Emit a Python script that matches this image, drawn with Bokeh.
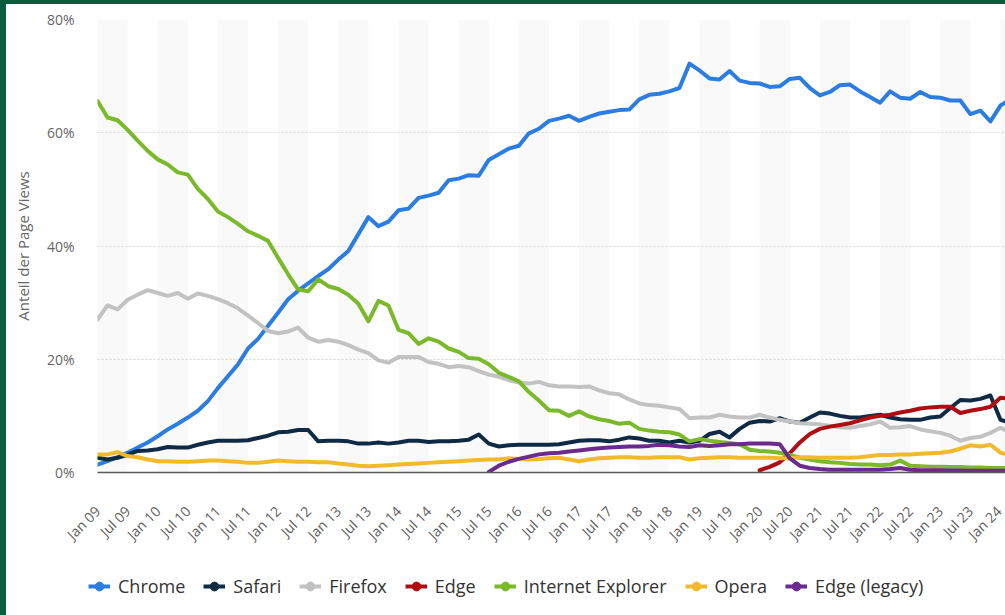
import math
import numpy as np
from bokeh.plotting import figure
from bokeh.layouts import column
from bokeh.models import Range1d, FixedTicker, Legend, LegendItem
from bokeh.embed import file_html
from bokeh.resources import INLINE

# ---------------- data (bi-monthly, Jan 2009 .. Mar 2024) ----------------
period_month = list(range(0, 184, 2))   # months since Jan 2009

chrome = [1.4, 2.0, 2.7, 3.5, 4.4, 5.3, 6.4, 7.6, 8.6, 9.7, 10.9, 12.6, 14.9, 17.0, 19.1, 21.9,
          23.6, 25.9, 28.2, 30.6, 32.1, 33.4, 34.7,
          35.9, 37.6, 39.1, 42.1, 45.1, 43.5, 44.3, 46.3, 46.6, 48.5, 48.9, 49.4, 51.6, 51.9,
          52.5, 52.4, 55.2, 56.2, 57.2, 57.7, 59.9, 60.7, 62.1, 62.5,
          63.0, 62.1, 62.8, 63.4, 63.7, 64.0, 64.1, 65.9, 66.7, 66.9, 67.3, 67.9, 72.2, 71.0,
          69.6, 69.4, 70.9, 69.2, 68.8, 68.7, 68.1, 68.2, 69.5,
          69.7, 67.9, 66.6, 67.2, 68.4, 68.5, 67.3, 66.3, 65.3, 67.3, 66.2, 66.0, 67.2, 66.3,
          66.2, 65.7, 65.7, 63.3, 63.9, 62.0, 64.8, 65.9]

safari = [2.6, 2.3, 2.6, 3.1, 3.8, 3.9, 4.1, 4.5, 4.4, 4.4, 4.9, 5.3, 5.6, 5.6, 5.6, 5.7,
          6.1, 6.5, 7.1, 7.2, 7.5, 7.5, 5.5,
          5.6, 5.6, 5.5, 5.1, 5.1, 5.3, 5.1, 5.3, 5.6, 5.6, 5.4, 5.5, 5.5, 5.6, 5.8, 6.7,
          5.1, 4.6, 4.8, 4.9, 4.9, 4.9, 4.9, 5.0,
          5.3, 5.6, 5.7, 5.7, 5.5, 5.8, 6.2, 6.0, 5.6, 5.6, 5.3, 5.6, 5.3, 5.6, 6.8, 7.2,
          6.2, 7.7, 8.8, 9.1, 9.0, 9.6, 9.0,
          8.8, 9.7, 10.6, 10.4, 10.0, 9.7, 9.7, 10.0, 10.2, 9.7, 9.4, 9.3, 9.3, 9.7, 9.9,
          11.4, 12.8, 12.7, 13.0, 13.6, 9.3, 8.8]

firefox = [27.0, 29.5, 28.8, 30.5, 31.4, 32.2, 31.7, 31.2, 31.7, 30.7, 31.6, 31.2, 30.6, 29.9,
           29.0, 27.7, 26.4, 25.0, 24.6, 24.9, 25.6, 23.8, 23.1,
           23.4, 23.1, 22.5, 21.7, 21.1, 19.8, 19.4, 20.4, 20.4, 20.4, 19.5, 19.2, 18.6, 18.8,
           18.6, 17.9, 17.3, 16.9, 16.3, 15.9, 15.7, 16.0, 15.4, 15.2,
           15.2, 15.1, 15.2, 14.5, 14.0, 13.8, 12.9, 12.2, 11.9, 11.8, 11.5, 11.2, 9.6, 9.7,
           9.7, 10.2, 9.9, 9.7, 9.7, 10.2, 9.7, 9.3, 9.0,
           8.7, 8.6, 8.5, 8.2, 8.0, 7.9, 8.2, 8.5, 9.0, 7.9, 8.0, 8.2, 7.6, 7.3, 7.0, 6.5,
           5.6, 6.1, 6.3, 7.0, 7.9, 7.0]

edge = [None] * 66 + [0.4, 1.0, 1.8, 3.4, 5.3, 6.8, 7.7, 8.1, 8.4, 8.7, 9.2, 9.7, 10.0, 10.2,
                      10.6, 10.9, 11.3, 11.5, 11.6, 11.6, 10.5, 10.9, 11.2, 11.6, 13.2, 13.0]

internet_explorer = [65.6, 62.7, 62.2, 60.5, 58.6, 56.8, 55.3, 54.4, 53.0, 52.6, 50.1, 48.3,
                     46.1, 45.1, 43.9, 42.6, 41.8, 40.9, 37.9, 35.0, 32.3, 32.0, 34.1,
                     32.9, 32.4, 31.4, 29.8, 26.7, 30.3, 29.5, 25.2, 24.6, 22.7, 23.7, 23.1,
                     21.9, 21.3, 20.2, 20.1, 19.1, 17.6, 16.9, 16.1, 14.2, 12.7, 11.0, 10.9,
                     10.0, 10.8, 9.9, 9.4, 9.1, 8.6, 8.8, 7.7, 7.4, 7.2, 7.1, 6.7, 5.5, 5.9,
                     5.6, 5.4, 5.2, 5.0, 4.0, 3.8, 3.7, 3.5, 3.1,
                     2.6, 2.3, 2.0, 1.8, 1.7, 1.5, 1.4, 1.4, 1.3, 1.4, 2.1, 1.2, 1.1, 1.0, 1.0,
                     0.95, 0.95, 0.9, 0.9, 0.8, 0.8, 0.8]

opera = [3.2, 3.2, 3.6, 2.9, 2.7, 2.3, 2.0, 2.0, 1.9, 1.9, 2.0, 2.1, 2.1, 2.0, 1.9, 1.7, 1.7,
         1.9, 2.1, 2.0, 1.9, 1.9, 1.8,
         1.8, 1.6, 1.4, 1.2, 1.1, 1.2, 1.3, 1.4, 1.5, 1.6, 1.7, 1.8, 1.9, 2.0, 2.1, 2.2, 2.3,
         2.3, 2.5, 2.4, 2.3, 2.4, 2.5, 2.6,
         2.3, 2.0, 2.3, 2.5, 2.6, 2.7, 2.7, 2.6, 2.6, 2.7, 2.7, 2.7, 2.3, 2.5, 2.6, 2.7, 2.7,
         2.6, 2.6, 2.6, 2.6, 2.5, 2.5,
         2.7, 2.7, 2.6, 2.6, 2.6, 2.6, 2.7, 2.9, 3.1, 3.1, 3.2, 3.2, 3.3, 3.4, 3.5, 3.7, 4.2,
         4.8, 4.6, 4.9, 3.5, 3.1]

edge_legacy = [None] * 39 + [0.1, 1.2, 1.9, 2.4, 2.8, 3.2, 3.4, 3.5, 3.7, 3.9, 4.1, 4.3, 4.4,
                             4.5, 4.6, 4.6, 4.7, 4.9, 4.8, 4.6, 4.5, 4.8, 4.7, 4.8, 5.0, 5.0,
                             5.1, 5.1, 5.1, 5.0, 2.5, 1.2, 0.8, 0.6, 0.5, 0.5, 0.5, 0.5, 0.5,
                             0.5, 0.6, 0.8, 0.5, 0.4, 0.4, 0.4, 0.35, 0.35, 0.3, 0.3, 0.3, 0.3,
                             0.3]

series_names = ["Chrome", "Safari", "Firefox", "Edge", "Internet Explorer", "Opera", "Edge (legacy)"]
series_values = [chrome, safari, firefox, edge, internet_explorer, opera, edge_legacy]
series_colors = ["#2b7de1", "#0f2a44", "#c2c2c2", "#b00d12", "#7ab929", "#f2b92b", "#6b2b8c"]

xtick_months = list(range(0, 181, 6))
xtick_labels = ["Jan 09", "Jul 09", "Jan 10", "Jul 10", "Jan 11", "Jul 11", "Jan 12", "Jul 12",
                "Jan 13", "Jul 13", "Jan 14", "Jul 14", "Jan 15", "Jul 15", "Jan 16", "Jul 16",
                "Jan 17", "Jul 17", "Jan 18", "Jul 18", "Jan 19", "Jul 19", "Jan 20", "Jul 20",
                "Jan 21", "Jul 21", "Jan 22", "Jul 22", "Jan 23", "Jul 23", "Jan 24"]
ytick_values = [0, 20, 40, 60, 80]
ytick_labels = ["0%", "20%", "40%", "60%", "80%"]
years = list(range(2009, 2025))

FONT = "Open Sans"
GREEN = "#0b5c3d"

p = figure(width=1005, height=555, x_range=Range1d(0, 182.2), y_range=Range1d(0, 80),
           output_backend="svg", toolbar_location=None,
           min_border_left=91, min_border_right=0, min_border_top=15, min_border_bottom=87)
p.frame_align = False
p.styles = {"border-left": f"6px solid {GREEN}", "border-top": f"4px solid {GREEN}"}
p.outline_line_color = None
p.background_fill_color = "white"
p.border_fill_color = "white"

# half-year background stripes (Jan-Jul of each year)
stripe_left = [(y - 2009) * 12 for y in years]
stripe_right = [s + 6 for s in stripe_left]
p.quad(left=stripe_left, right=stripe_right, bottom=0, top=80,
       fill_color="#f9f9f9", line_color=None, level="image")

# grid
p.xgrid.visible = False
p.ygrid.grid_line_color = "#d6d6d6"
p.ygrid.grid_line_dash = "2 2"
p.ygrid.grid_line_width = 1

# axes
xa = p.xaxis[0]
xa.ticker = FixedTicker(ticks=xtick_months)
xa.major_label_overrides = {m: lab for m, lab in zip(xtick_months, xtick_labels)}
xa.major_label_orientation = math.pi / 4
xa.major_label_text_font = FONT
xa.major_label_text_font_size = "14px"
xa.major_label_text_color = "#606060"
xa.major_label_standoff = 36
xa.major_tick_line_color = None
xa.minor_tick_line_color = None
xa.major_tick_in = 0
xa.major_tick_out = 0
xa.axis_line_color = "#5a5a5a"
xa.axis_line_width = 1.5

ya = p.yaxis[0]
ya.ticker = FixedTicker(ticks=ytick_values)
ya.major_label_overrides = {v: lab for v, lab in zip(ytick_values, ytick_labels)}
ya.major_label_text_font = FONT
ya.major_label_text_font_size = "14px"
ya.major_label_text_color = "#666666"
ya.major_label_standoff = 23
ya.major_tick_line_color = None
ya.minor_tick_line_color = None
ya.major_tick_in = 0
ya.major_tick_out = 0
ya.axis_line_color = None
ya.axis_label = "Anteil der Page Views"
ya.axis_label_text_font = FONT
ya.axis_label_text_font_size = "15px"
ya.axis_label_text_font_style = "normal"
ya.axis_label_text_color = "#666666"
ya.axis_label_standoff = 11

for name, vals, col in zip(series_names, series_values, series_colors):
    y = np.array([np.nan if v is None else v for v in vals], dtype=float)
    p.line(period_month, y, line_color=col, line_width=4, line_join="round", line_cap="round")

# legend strip below the chart
lg = figure(width=1005, height=60, x_range=Range1d(0, 1), y_range=Range1d(0, 1),
            output_backend="svg", toolbar_location=None, x_axis_type=None, y_axis_type=None,
            min_border_left=0, min_border_right=0, min_border_top=0, min_border_bottom=0)
lg.frame_align = False
lg.styles = {"border-left": f"6px solid {GREEN}"}
lg.outline_line_color = None
lg.xgrid.visible = False
lg.ygrid.visible = False

items = []
for name, col in zip(series_names, series_colors):
    # invisible proxies (NaN) that only provide the legend symbol
    r = lg.line(x=[np.nan], y=[np.nan], line_color=col, line_width=4)
    m = lg.scatter(x=[np.nan], y=[np.nan], marker="circle", fill_color=col, line_color=col)
    items.append(LegendItem(label=name, renderers=[r, m]))

legend = Legend(items=items, orientation="horizontal", location=(82, 17),
                padding=0, margin=0, spacing=18, label_standoff=8,
                glyph_width=22, glyph_height=24,
                label_text_font=FONT, label_text_font_size="18px", label_text_color="#333333",
                background_fill_alpha=0, border_line_color=None)
lg.add_layout(legend, "center")

layout = column(p, lg, spacing=0)
open("out.html", "w").write(file_html(layout, INLINE))
